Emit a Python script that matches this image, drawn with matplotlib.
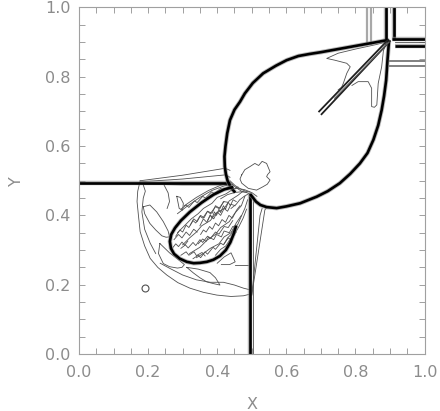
import numpy as np
import matplotlib
matplotlib.use("Agg")
import matplotlib.pyplot as plt

# contour lines traced as polylines (x, y in domain units)

# slip line / shock boundaries
horiz_x = [0.0, 0.437]
horiz_y = [0.494, 0.494]
vert_x = [0.495, 0.495]
vert_y = [0.0, 0.462]

# big bubble outline
bubble_x = [0.452, 0.440, 0.430, 0.425, 0.422, 0.421, 0.424, 0.429, 0.437, 0.450, 0.466, 0.480,
            0.503, 0.533, 0.570, 0.601, 0.635, 0.668, 0.700, 0.750, 0.800, 0.850, 0.893,
            0.897, 0.893, 0.889, 0.883, 0.876, 0.866, 0.852, 0.835, 0.813, 0.785, 0.755,
            0.720, 0.688, 0.640, 0.600, 0.572, 0.543, 0.525, 0.512, 0.503, 0.495]
bubble_y = [0.466, 0.480, 0.500, 0.520, 0.541, 0.570, 0.600, 0.637, 0.675, 0.705, 0.728, 0.752,
            0.782, 0.810, 0.832, 0.848, 0.860, 0.866, 0.871, 0.880, 0.889, 0.898, 0.906,
            0.900, 0.850, 0.790, 0.745, 0.704, 0.660, 0.618, 0.580, 0.550, 0.520, 0.493,
            0.470, 0.454, 0.435, 0.426, 0.421, 0.424, 0.430, 0.440, 0.452, 0.462]

# jet head (mushroom) outline
head_x = [0.447, 0.420, 0.389, 0.355, 0.321, 0.295, 0.278, 0.267, 0.263, 0.266, 0.275, 0.292,
          0.312, 0.332, 0.350, 0.370, 0.389, 0.408, 0.425, 0.438, 0.447, 0.455]
head_y = [0.482, 0.475, 0.460, 0.437, 0.410, 0.385, 0.364, 0.345, 0.325, 0.305, 0.289, 0.275,
          0.266, 0.262, 0.263, 0.266, 0.272, 0.283, 0.300, 0.322, 0.345, 0.370]

# spike inside the bubble near the corner
spike1_x = [0.893, 0.695]
spike1_y = [0.905, 0.700]
spike2_x = [0.900, 0.702]
spike2_y = [0.903, 0.692]
spike3_x = [0.897, 0.740]
spike3_y = [0.900, 0.738]

# corner discontinuities
cv1_x = [0.888, 0.888]
cv1_y = [0.910, 1.0]
cv2_x = [0.911, 0.911]
cv2_y = [0.905, 1.0]
ch1_x = [0.905, 1.0]
ch1_y = [0.908, 0.908]
ch2_x = [0.915, 1.0]
ch2_y = [0.890, 0.890]
gv1_x = [0.833, 0.833]
gv1_y = [0.895, 1.0]
gv2_x = [0.846, 0.846]
gv2_y = [0.895, 1.0]
gh1_x = [0.900, 1.0]
gh1_y = [0.846, 0.846]
gh2_x = [0.900, 1.0]
gh2_y = [0.830, 0.830]
gh3_x = [0.915, 1.0]
gh3_y = [0.899, 0.899]

# thin contours near the spike
tipa_x = [0.895, 0.860, 0.800, 0.750, 0.717, 0.740, 0.775, 0.785, 0.775, 0.765, 0.760, 0.750]
tipa_y = [0.902, 0.893, 0.880, 0.868, 0.853, 0.848, 0.839, 0.829, 0.810, 0.781, 0.770, 0.762]
tipb_x = [0.790, 0.808, 0.837, 0.847, 0.847, 0.855, 0.862, 0.866, 0.876, 0.881, 0.890]
tipb_y = [0.775, 0.786, 0.786, 0.767, 0.714, 0.712, 0.719, 0.781, 0.829, 0.875, 0.900]

# irregular blob next to the neck
blob_x = [0.471, 0.480, 0.495, 0.509, 0.520, 0.530, 0.543, 0.553, 0.546, 0.543, 0.553, 0.545,
          0.533, 0.514, 0.490, 0.471, 0.466, 0.471]
blob_y = [0.517, 0.532, 0.541, 0.550, 0.544, 0.556, 0.550, 0.526, 0.518, 0.512, 0.502, 0.490,
          0.483, 0.473, 0.478, 0.493, 0.505, 0.517]

# wedge above the horizontal line
wedge1_x = [0.177, 0.300, 0.423, 0.437]
wedge1_y = [0.500, 0.516, 0.536, 0.530]
wedge2_x = [0.177, 0.300, 0.424, 0.437]
wedge2_y = [0.497, 0.505, 0.517, 0.510]
wedge3_x = [0.186, 0.300, 0.437]
wedge3_y = [0.490, 0.488, 0.488]

# outer and inner arcs of the reflected wave
arc_x = [0.177, 0.170, 0.168, 0.172, 0.177, 0.190, 0.206, 0.228, 0.254, 0.286, 0.321, 0.360,
         0.399, 0.440, 0.476, 0.492]
arc_y = [0.500, 0.470, 0.440, 0.400, 0.353, 0.312, 0.276, 0.250, 0.228, 0.206, 0.190, 0.178,
         0.170, 0.166, 0.168, 0.172]
arc2_x = [0.235, 0.263, 0.300, 0.340, 0.380, 0.418, 0.450, 0.476, 0.492]
arc2_y = [0.262, 0.247, 0.228, 0.214, 0.207, 0.207, 0.199, 0.190, 0.186]
arc3_x = [0.186, 0.192, 0.186, 0.182, 0.190, 0.206, 0.222]
arc3_y = [0.488, 0.470, 0.450, 0.410, 0.360, 0.320, 0.290]

# loops around the jet head
leaf1_x = [0.186, 0.205, 0.225, 0.244, 0.258, 0.262, 0.252, 0.240, 0.222, 0.205, 0.190, 0.186]
leaf1_y = [0.425, 0.430, 0.410, 0.382, 0.355, 0.338, 0.337, 0.341, 0.358, 0.377, 0.405, 0.425]
leaf2_x = [0.234, 0.262, 0.288, 0.305, 0.298, 0.285, 0.262, 0.244, 0.230, 0.234]
leaf2_y = [0.319, 0.292, 0.272, 0.258, 0.250, 0.248, 0.252, 0.261, 0.290, 0.319]
leaf3_x = [0.312, 0.345, 0.379, 0.395, 0.408, 0.390, 0.370, 0.350, 0.331, 0.312]
leaf3_y = [0.250, 0.245, 0.235, 0.220, 0.199, 0.203, 0.208, 0.220, 0.234, 0.250]
leaf4_x = [0.283, 0.293, 0.302, 0.300, 0.290, 0.283]
leaf4_y = [0.455, 0.452, 0.435, 0.415, 0.420, 0.455]
wing_x = [0.400, 0.420, 0.440, 0.452, 0.436, 0.412]
wing_y = [0.262, 0.280, 0.292, 0.266, 0.258, 0.258]
hook_x = [0.246, 0.258, 0.262, 0.255]
hook_y = [0.488, 0.465, 0.440, 0.420]

# dense contours inside and along the jet
jet_lines = [
    ([0.285, 0.305, 0.325, 0.345, 0.360, 0.385, 0.400, 0.425, 0.445, 0.460],
     [0.350, 0.370, 0.390, 0.405, 0.420, 0.435, 0.452, 0.462, 0.475, 0.482]),
    ([0.300, 0.320, 0.340, 0.355, 0.380, 0.395, 0.420, 0.435, 0.460, 0.475],
     [0.315, 0.335, 0.352, 0.370, 0.385, 0.405, 0.420, 0.442, 0.458, 0.470]),
    ([0.320, 0.350, 0.370, 0.395, 0.410, 0.435, 0.450, 0.470, 0.480],
     [0.290, 0.308, 0.328, 0.345, 0.365, 0.382, 0.405, 0.428, 0.455]),
    ([0.280, 0.300, 0.320, 0.345, 0.370, 0.395, 0.420, 0.440],
     [0.370, 0.390, 0.410, 0.428, 0.445, 0.460, 0.472, 0.485]),
    ([0.340, 0.360, 0.380, 0.405, 0.420, 0.440, 0.455, 0.470],
     [0.278, 0.290, 0.305, 0.318, 0.338, 0.350, 0.378, 0.400]),
    ([0.350, 0.360, 0.370, 0.380, 0.390, 0.400, 0.410, 0.420, 0.430, 0.440, 0.452],
     [0.370, 0.390, 0.380, 0.400, 0.390, 0.410, 0.400, 0.420, 0.412, 0.432, 0.428]),
    ([0.322, 0.332, 0.342, 0.352, 0.362, 0.372, 0.385, 0.395, 0.408, 0.418, 0.430],
     [0.372, 0.390, 0.382, 0.400, 0.393, 0.412, 0.406, 0.428, 0.420, 0.440, 0.438]),
    ([0.345, 0.358, 0.368, 0.375, 0.390, 0.398, 0.412, 0.420, 0.435, 0.445, 0.458],
     [0.318, 0.332, 0.325, 0.338, 0.330, 0.345, 0.338, 0.355, 0.350, 0.368, 0.370]),
    ([0.275, 0.288, 0.298, 0.310, 0.320, 0.332, 0.342],
     [0.330, 0.345, 0.335, 0.352, 0.342, 0.360, 0.352]),
    ([0.295, 0.310, 0.318, 0.333, 0.340, 0.356, 0.365],
     [0.285, 0.295, 0.285, 0.295, 0.284, 0.293, 0.283]),
    ([0.285, 0.315, 0.350, 0.385, 0.420, 0.445],
     [0.405, 0.428, 0.452, 0.472, 0.485, 0.490]),
    ([0.305, 0.340, 0.375, 0.410, 0.440],
     [0.428, 0.452, 0.472, 0.487, 0.494]),
    ([0.440, 0.455, 0.470, 0.485, 0.495],
     [0.492, 0.480, 0.470, 0.466, 0.462]),
    ([0.437, 0.452, 0.468, 0.482, 0.500, 0.515],
     [0.500, 0.486, 0.476, 0.470, 0.466, 0.455]),
    ([0.280, 0.292, 0.300, 0.310, 0.318, 0.330, 0.338, 0.350, 0.358, 0.372, 0.380, 0.395, 0.405,
      0.420],
     [0.340, 0.358, 0.352, 0.372, 0.365, 0.385, 0.378, 0.398, 0.392, 0.412, 0.405, 0.425, 0.420,
      0.440]),
    ([0.295, 0.308, 0.316, 0.330, 0.338, 0.350, 0.358, 0.372, 0.380, 0.395, 0.405, 0.420, 0.432,
      0.445],
     [0.305, 0.315, 0.306, 0.322, 0.313, 0.330, 0.322, 0.340, 0.333, 0.352, 0.346, 0.368, 0.365,
      0.385]),
    ([0.330, 0.345, 0.352, 0.365, 0.372, 0.388, 0.395, 0.410, 0.418, 0.432, 0.440, 0.455],
     [0.275, 0.285, 0.278, 0.295, 0.288, 0.308, 0.302, 0.320, 0.315, 0.335, 0.330, 0.352]),
    ([0.372, 0.380, 0.385, 0.392, 0.398, 0.405, 0.410, 0.418, 0.424, 0.432, 0.438, 0.446, 0.455],
     [0.385, 0.402, 0.392, 0.410, 0.400, 0.418, 0.408, 0.428, 0.418, 0.438, 0.428, 0.445, 0.440]),
    ([0.352, 0.360, 0.368, 0.378, 0.386, 0.395, 0.404, 0.414, 0.424, 0.434, 0.444, 0.456, 0.466],
     [0.345, 0.358, 0.352, 0.368, 0.360, 0.378, 0.370, 0.388, 0.380, 0.400, 0.392, 0.415, 0.428]),
    ([0.270, 0.280, 0.288, 0.298, 0.306, 0.315],
     [0.305, 0.318, 0.310, 0.323, 0.314, 0.326]),
    ([0.295, 0.310, 0.318, 0.334, 0.342, 0.358, 0.366, 0.384, 0.392, 0.410, 0.420, 0.440],
     [0.418, 0.430, 0.423, 0.442, 0.437, 0.455, 0.450, 0.468, 0.463, 0.478, 0.475, 0.488]),
    ([0.420, 0.430, 0.440, 0.450, 0.460, 0.470, 0.480, 0.488],
     [0.318, 0.335, 0.345, 0.365, 0.375, 0.398, 0.420, 0.445]),
    ([0.395, 0.410, 0.425, 0.438, 0.450, 0.463, 0.475, 0.485],
     [0.285, 0.302, 0.312, 0.332, 0.345, 0.368, 0.392, 0.418]),
    ([0.400, 0.420, 0.440, 0.460, 0.480, 0.495],
     [0.466, 0.474, 0.478, 0.478, 0.474, 0.468]),
    ([0.410, 0.430, 0.450, 0.468, 0.485],
     [0.448, 0.460, 0.466, 0.468, 0.467]),
    ([0.440, 0.455, 0.465, 0.478, 0.490],
     [0.420, 0.432, 0.445, 0.455, 0.462]),
]

# thin lines beside the vertical shock
side1_x = [0.503, 0.503]
side1_y = [0.0, 0.445]
side2_x = [0.500, 0.524, 0.530]
side2_y = [0.170, 0.400, 0.420]
side3_x = [0.500, 0.538, 0.545]
side3_y = [0.170, 0.416, 0.425]
tick1_x = [0.452, 0.490]
tick1_y = [0.257, 0.257]

# small closed contour
dot_x = [0.191]
dot_y = [0.190]

fig = plt.figure(figsize=(4.4, 4.11), dpi=100)
ax = fig.add_axes([79 / 440, 57 / 411, 345.5 / 440, 346.5 / 411])

thin = dict(color="#505050", lw=0.6, solid_joinstyle="round")
thick = dict(color="black", lw=1.9, solid_capstyle="butt")
halo = dict(color="#8a8a8a", lw=3.2, alpha=0.6, solid_capstyle="butt")

# thin contours first
for x, y in jet_lines:
    ax.plot(x, y, **thin)
for x, y in [(tipa_x, tipa_y), (tipb_x, tipb_y), (blob_x, blob_y), (wedge1_x, wedge1_y),
             (wedge2_x, wedge2_y), (wedge3_x, wedge3_y), (arc_x, arc_y), (arc2_x, arc2_y),
             (arc3_x, arc3_y), (leaf1_x, leaf1_y), (leaf2_x, leaf2_y), (leaf3_x, leaf3_y),
             (leaf4_x, leaf4_y), (wing_x, wing_y), (hook_x, hook_y), (side1_x, side1_y),
             (side2_x, side2_y), (side3_x, side3_y), (tick1_x, tick1_y), (gh3_x, gh3_y)]:
    ax.plot(x, y, **thin)

# gray corner bands
for x, y in [(gv1_x, gv1_y), (gv2_x, gv2_y)]:
    ax.plot(x, y, color="#a8a8a8", lw=1.6)
for x, y in [(gh1_x, gh1_y), (gh2_x, gh2_y)]:
    ax.plot(x, y, color="#808080", lw=1.4)

# strong discontinuities
for x, y in [(horiz_x, horiz_y), (vert_x, vert_y), (bubble_x, bubble_y), (head_x, head_y),
             (cv1_x, cv1_y), (cv2_x, cv2_y), (ch1_x, ch1_y), (ch2_x, ch2_y)]:
    ax.plot(x, y, **halo)
    ax.plot(x, y, **thick)
for x, y in [(spike1_x, spike1_y), (spike2_x, spike2_y)]:
    ax.plot(x, y, color="#202020", lw=1.3)
ax.plot(spike3_x, spike3_y, color="#606060", lw=0.8)

ax.plot(dot_x, dot_y, "o", ms=5, mfc="none", mec="#505050", mew=0.8)

ax.set_xlim(0, 1)
ax.set_ylim(0, 1)
ax.set_xticks(np.arange(0, 1.01, 0.2))
ax.set_yticks(np.arange(0, 1.01, 0.2))
ax.set_xticks(np.arange(0, 1.01, 0.05), minor=True)
ax.set_yticks(np.arange(0, 1.01, 0.05), minor=True)
ax.set_xticklabels(["0.0", "0.2", "0.4", "0.6", "0.8", "1.0"])
ax.set_yticklabels(["0.0", "0.2", "0.4", "0.6", "0.8", "1.0"])

gray = "#8c8c8c"
ax.tick_params(which="both", direction="in", top=True, right=True, length=4,
               width=0.7, color="#a0a0a0", labelcolor=gray, labelsize=11.5)
ax.tick_params(axis="x", pad=8)
ax.tick_params(axis="y", pad=6)
for s in ax.spines.values():
    s.set_color("#a0a0a0")
    s.set_linewidth(0.8)

ax.set_xlabel("X", color=gray, fontsize=11.5, labelpad=12)
ax.set_ylabel("Y", color=gray, fontsize=11.5, labelpad=15)

fig.savefig("out.png", dpi=100)
